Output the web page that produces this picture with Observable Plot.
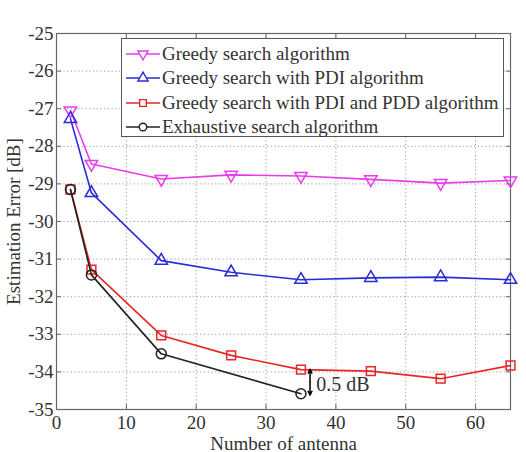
<!DOCTYPE html>
<html>
<head>
<meta charset="utf-8">
<script src="https://cdn.jsdelivr.net/npm/d3@7"></script>
<script src="https://cdn.jsdelivr.net/npm/@observablehq/plot@0.6"></script>
<style>
  html, body { margin: 0; padding: 0; background: #fff; }
  #wrap { position: relative; width: 526px; height: 452px; font-family: "Liberation Serif", "Times New Roman", serif; }
  #legend { position: absolute; left: 121px; top: 38px; width: 381px; height: 97px; border: 1px solid #555; background: #fff; box-sizing: content-box; }
  .row { position: absolute; left: 4px; height: 24px; display: flex; align-items: center; font-family: "Liberation Serif", "Times New Roman", serif; font-size: 19px; color: #333; white-space: nowrap; }
  .row svg { margin-right: 2px; }
</style>
</head>
<body>
<div id="wrap"></div>
<script>
const antennas = [2, 5, 15, 25, 35, 45, 55, 65];
const greedy = [-27.05, -28.47, -28.87, -28.76, -28.79, -28.88, -28.98, -28.91];
const greedyPDI = [-27.27, -29.24, -31.04, -31.35, -31.55, -31.5, -31.48, -31.55];
const greedyPDIPDD = [-29.15, -31.28, -33.03, -33.56, -33.94, -33.98, -34.18, -33.83];
const exhaustiveX = [2, 5, 15, 35];
const exhaustive = [-29.15, -31.42, -33.52, -34.58];

const seriesNames = [
  "Greedy search algorithm",
  "Greedy search with PDI algorithm",
  "Greedy search with PDI and PDD algorithm",
  "Exhaustive search algorithm"
];
const seriesColors = ["#e83de8", "#2b2bd6", "#e82626", "#222222"];
const seriesSymbols = ["triangle", "triangle", "square", "circle"];
const seriesRotate = [180, 0, 0, 0];
const seriesSizes = [4.6, 4.6, 5, 5];

const annotX = 36.3;
const annotTop = -33.93;
const annotMid = -34.27;
const annotBottom = -34.62;
const annotText = "0.5 dB";
const annotTextX = 37.2;
const annotTextY = -34.33;

const xTicks = [0, 10, 20, 30, 40, 50, 60];
const yTicks = [-35, -34, -33, -32, -31, -30, -29, -28, -27, -26, -25];

const rows = [];
[[antennas, greedy], [antennas, greedyPDI], [antennas, greedyPDIPDD], [exhaustiveX, exhaustive]].forEach(([xs, ys], i) => {
  xs.forEach((x, j) => rows.push({x, y: ys[j], s: i}));
});

const marks = [
  Plot.gridX(xTicks, {stroke: "#9a9a9a", strokeOpacity: 1, strokeDasharray: "1.2,2.5"}),
  Plot.gridY(yTicks, {stroke: "#9a9a9a", strokeOpacity: 1, strokeDasharray: "1.2,2.5"}),
  Plot.frame({stroke: "#666", strokeWidth: 1.2}),
  Plot.axisX(xTicks, {anchor: "bottom", tickSize: -5, tickPadding: 11, fontSize: 19, fill: "#333", stroke: "#666",
    label: "Number of antenna", labelArrow: "none", labelAnchor: "center", labelOffset: 40}),
  Plot.axisX(xTicks, {anchor: "top", tickSize: -5, tickFormat: () => "", stroke: "#666", label: null}),
  Plot.axisY(yTicks, {anchor: "left", tickSize: -5, tickPadding: 8, fontSize: 19, fill: "#333", stroke: "#666",
    tickFormat: d => String(d), label: "Estimation Error [dB]", labelArrow: "none", labelAnchor: "center", labelOffset: 50}),
  Plot.axisY(yTicks, {anchor: "right", tickSize: -5, tickFormat: () => "", stroke: "#666", label: null})
];

seriesNames.forEach((name, i) => {
  const data = rows.filter(r => r.s === i);
  marks.push(Plot.line(data, {x: "x", y: "y", stroke: seriesColors[i], strokeWidth: 1.6}));
  marks.push(Plot.dot(data, {x: "x", y: "y", stroke: seriesColors[i], fill: "white", fillOpacity: 0,
    symbol: seriesSymbols[i], rotate: seriesRotate[i], r: seriesSizes[i], strokeWidth: 1.5}));
});

marks.push(Plot.arrow([{x: annotX, y1: annotMid, y2: annotTop}, {x: annotX, y1: annotMid, y2: annotBottom}], {
  x1: "x", x2: "x", y1: "y1", y2: "y2", stroke: "black", strokeWidth: 1.5,
  headLength: 9, headAngle: 50, bend: 0
}));
marks.push(Plot.text([{x: annotTextX, y: annotTextY, t: annotText}], {
  x: "x", y: "y", text: "t", textAnchor: "start", fontSize: 20, fill: "#333",
  fontFamily: "'Liberation Serif', 'Times New Roman', serif"
}));

const chart = Plot.plot({
  width: 526,
  height: 452,
  marginLeft: 56,
  marginRight: 16,
  marginTop: 33,
  marginBottom: 43,
  style: {fontFamily: "'Liberation Serif', 'Times New Roman', serif", fontSize: "19px", background: "white", color: "#333"},
  x: {domain: [0, 65]},
  y: {domain: [-35, -25]},
  marks
});

const wrap = document.getElementById("wrap");
wrap.appendChild(chart);

const legend = document.createElement("div");
legend.id = "legend";
seriesNames.forEach((name, i) => {
  const row = document.createElement("div");
  row.className = "row";
  row.style.top = (3 + i * 24.3) + "px";
  const ns = "http://www.w3.org/2000/svg";
  const svg = document.createElementNS(ns, "svg");
  svg.setAttribute("width", 34);
  svg.setAttribute("height", 16);
  const line = document.createElementNS(ns, "line");
  line.setAttribute("x1", 0); line.setAttribute("x2", 34);
  line.setAttribute("y1", 8); line.setAttribute("y2", 8);
  line.setAttribute("stroke", seriesColors[i]); line.setAttribute("stroke-width", 1.6);
  svg.appendChild(line);
  const sym = document.createElementNS(ns, "path");
  const symType = {triangle: d3.symbolTriangle, square: d3.symbolSquare, circle: d3.symbolCircle}[seriesSymbols[i]];
  sym.setAttribute("d", d3.symbol(symType, 45)());
  sym.setAttribute("transform", `translate(17,8) rotate(${seriesRotate[i]})`);
  sym.setAttribute("fill", "white");
  sym.setAttribute("stroke", seriesColors[i]);
  sym.setAttribute("stroke-width", 1.4);
  svg.appendChild(sym);
  row.appendChild(svg);
  const span = document.createElement("span");
  span.textContent = name;
  row.appendChild(span);
  legend.appendChild(row);
});
wrap.appendChild(legend);
</script>
</body>
</html>
